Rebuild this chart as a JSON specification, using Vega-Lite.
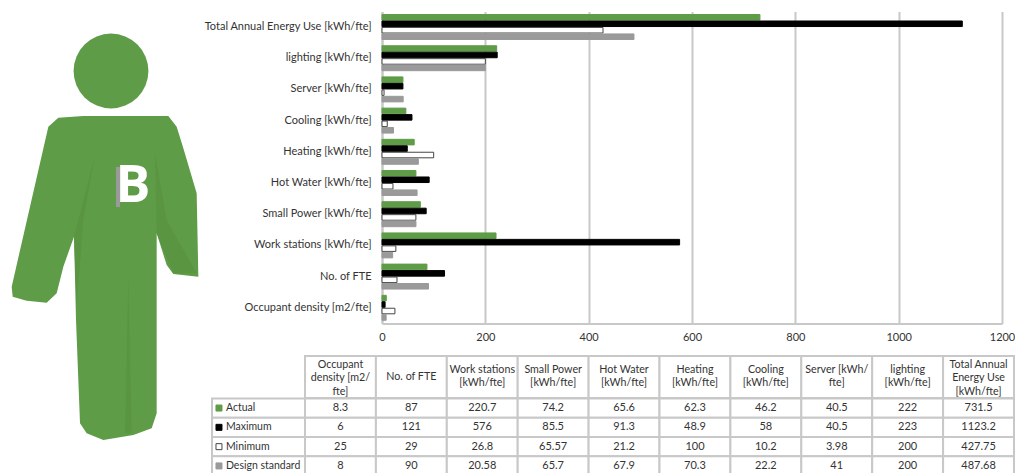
{
"$schema":"https://vega.github.io/schema/vega-lite/v6.json",
"background":"white",
"padding":{"left":0,"right":0,"top":11.4,"bottom":0},
"config":{"font":"Lato","view":{"stroke":null},"text":{"font":"Lato"}},
"datasets":{
"metrics":[
{"category":"Occupant density  [m2/fte]","series":"Actual","value":8.3},
{"category":"Occupant density  [m2/fte]","series":"Maximum","value":6},
{"category":"Occupant density  [m2/fte]","series":"Minimum","value":25},
{"category":"Occupant density  [m2/fte]","series":"Design standard","value":8},
{"category":"No. of FTE","series":"Actual","value":87},
{"category":"No. of FTE","series":"Maximum","value":121},
{"category":"No. of FTE","series":"Minimum","value":29},
{"category":"No. of FTE","series":"Design standard","value":90},
{"category":"Work stations [kWh/fte]","series":"Actual","value":220.7},
{"category":"Work stations [kWh/fte]","series":"Maximum","value":576},
{"category":"Work stations [kWh/fte]","series":"Minimum","value":26.8},
{"category":"Work stations [kWh/fte]","series":"Design standard","value":20.58},
{"category":"Small Power [kWh/fte]","series":"Actual","value":74.2},
{"category":"Small Power [kWh/fte]","series":"Maximum","value":85.5},
{"category":"Small Power [kWh/fte]","series":"Minimum","value":65.57},
{"category":"Small Power [kWh/fte]","series":"Design standard","value":65.7},
{"category":"Hot Water  [kWh/fte]","series":"Actual","value":65.6},
{"category":"Hot Water  [kWh/fte]","series":"Maximum","value":91.3},
{"category":"Hot Water  [kWh/fte]","series":"Minimum","value":21.2},
{"category":"Hot Water  [kWh/fte]","series":"Design standard","value":67.9},
{"category":"Heating   [kWh/fte]","series":"Actual","value":62.3},
{"category":"Heating   [kWh/fte]","series":"Maximum","value":48.9},
{"category":"Heating   [kWh/fte]","series":"Minimum","value":100},
{"category":"Heating   [kWh/fte]","series":"Design standard","value":70.3},
{"category":"Cooling  [kWh/fte]","series":"Actual","value":46.2},
{"category":"Cooling  [kWh/fte]","series":"Maximum","value":58},
{"category":"Cooling  [kWh/fte]","series":"Minimum","value":10.2},
{"category":"Cooling  [kWh/fte]","series":"Design standard","value":22.2},
{"category":"Server  [kWh/fte]","series":"Actual","value":40.5},
{"category":"Server  [kWh/fte]","series":"Maximum","value":40.5},
{"category":"Server  [kWh/fte]","series":"Minimum","value":3.98},
{"category":"Server  [kWh/fte]","series":"Design standard","value":41},
{"category":"lighting  [kWh/fte]","series":"Actual","value":222},
{"category":"lighting  [kWh/fte]","series":"Maximum","value":223},
{"category":"lighting  [kWh/fte]","series":"Minimum","value":200},
{"category":"lighting  [kWh/fte]","series":"Design standard","value":200},
{"category":"Total Annual Energy Use  [kWh/fte]","series":"Actual","value":731.5},
{"category":"Total Annual Energy Use  [kWh/fte]","series":"Maximum","value":1123.2},
{"category":"Total Annual Energy Use  [kWh/fte]","series":"Minimum","value":427.75},
{"category":"Total Annual Energy Use  [kWh/fte]","series":"Design standard","value":487.68}
],
"headers":[
{"category":"Occupant density  [m2/fte]","lines":3,"header":"Occupant\ndensity  [m2/\nfte]"},
{"category":"No. of FTE","lines":1,"header":"No. of FTE"},
{"category":"Work stations [kWh/fte]","lines":2,"header":"Work stations\n[kWh/fte]"},
{"category":"Small Power [kWh/fte]","lines":2,"header":"Small Power\n[kWh/fte]"},
{"category":"Hot Water  [kWh/fte]","lines":2,"header":"Hot Water\n[kWh/fte]"},
{"category":"Heating   [kWh/fte]","lines":2,"header":"Heating\n[kWh/fte]"},
{"category":"Cooling  [kWh/fte]","lines":2,"header":"Cooling\n[kWh/fte]"},
{"category":"Server  [kWh/fte]","lines":2,"header":"Server  [kWh/\nfte]"},
{"category":"lighting  [kWh/fte]","lines":2,"header":"lighting\n[kWh/fte]"},
{"category":"Total Annual Energy Use  [kWh/fte]","lines":3,"header":"Total Annual\nEnergy Use\n[kWh/fte]"}
],
"seriesList":[{"series":"Actual"},{"series":"Maximum"},{"series":"Minimum"},{"series":"Design standard"}]
},
"hconcat":[
{
"width":382,"height":461.6,
"encoding":{
 "x":{"field":"x","type":"quantitative","scale":{"domain":[0,382],"zero":false,"nice":false},"axis":null},
 "y":{"field":"y","type":"quantitative","scale":{"domain":[11.4,473],"reverse":true,"zero":false,"nice":false},"axis":null}},
"layer":[
{"data":{"values":[{"part":"body","x":100,"y":240}]},
 "mark":{"type":"point","filled":true,"opacity":1,"color":"#5f9c48","shape":"M-.125,-.367L-.05,-.372L.205,-.372L.23,-.34L.25,-.275L.29,-.14L.295,.11L.22,.102L.2,.075L.17,-.02L.17,.52L.155,.565L.1,.585L.01,.6L-.04,.58L-.06,.55L-.072,.24L-.078,-.01L-.11,.08L-.13,.16L-.16,.188L-.22,.182L-.262,.17L-.265,.14L-.155,-.34Z"},
 "encoding":{"size":{"value":444444}}},
{"data":{"values":[{"part":"creases","x":100,"y":240}]},
 "mark":{"type":"point","filled":true,"opacity":1,"color":"#5a9642","shape":"M.085,.11L.095,.58L.075,.58ZM-.015,-.255L-.05,-.06L-.07,.2L-.078,-.01ZM.165,-.26L.2,-.06L.29,.1L.22,.1L.17,-.02Z"},
 "encoding":{"size":{"value":444444}}},
{"data":{"values":[{"part":"head","x":111,"y":71}]},
 "mark":{"type":"point","filled":true,"opacity":1,"color":"#5f9c48","shape":"circle"},
 "encoding":{"size":{"value":5600}}},
{"data":{"values":[{"part":"B shadow","x":118,"y":187}]},
 "mark":{"type":"point","filled":true,"opacity":1,"color":"#9a9a9a","shape":"M-.1,-1L.1,-1L.1,1L-.1,1Z"},
 "encoding":{"size":{"value":1600}}},
{"data":{"values":[{"part":"B","x":133,"y":186,"t":"B"}]},
 "mark":{"type":"text","font":"Open Sans","fontWeight":"bold","fontSize":52,"color":"white","baseline":"middle","align":"center"},
 "encoding":{"text":{"field":"t"}}}
]
},
{
"bounds":"flush","spacing":0,
"vconcat":[
{
"width":620,"height":312,
"data":{"name":"metrics"},
"mark":{"type":"bar","strokeWidth":1},
"encoding":{
"y":{"field":"category","type":"nominal","title":null,
 "sort":["Total Annual Energy Use  [kWh/fte]","lighting  [kWh/fte]","Server  [kWh/fte]","Cooling  [kWh/fte]","Heating   [kWh/fte]","Hot Water  [kWh/fte]","Small Power [kWh/fte]","Work stations [kWh/fte]","No. of FTE","Occupant density  [m2/fte]"],
 "scale":{"paddingInner":0.2,"paddingOuter":0.1},
 "axis":{"ticks":false,"labelFontSize":11,"labelColor":"#333333","labelPadding":11,"labelLimit":300,"domainColor":"#c8c8c8","domainWidth":2,"grid":false}},
"yOffset":{"field":"series","type":"nominal","sort":["Actual","Maximum","Minimum","Design standard"],"scale":{"paddingInner":0.14,"paddingOuter":0}},
"x":{"field":"value","type":"quantitative","title":null,
 "scale":{"domain":[0,1200],"nice":false},
 "axis":{"values":[0,200,400,600,800,1000,1200],"format":"d","ticks":false,"labelFontSize":11,"labelColor":"#333333","labelPadding":8,"labelFlush":false,"domainColor":"#c8c8c8","domainWidth":2,"grid":true,"gridColor":"#c8c8c8","gridWidth":2}},
"fill":{"field":"series","type":"nominal","legend":null,"scale":{"domain":["Actual","Maximum","Minimum","Design standard"],"range":["#5f9c48","#000000","#ffffff","#9a9a9a"]}},
"stroke":{"field":"series","type":"nominal","legend":null,"scale":{"domain":["Actual","Maximum","Minimum","Design standard"],"range":["#5f9c48","#000000","#444444","#9a9a9a"]}}
}
},
{
"width":620,"height":74.6,
"data":{"name":"headers"},
"encoding":{
"x":{"field":"category","type":"nominal","axis":null,"sort":null,
 "scale":{"type":"band","domain":["Occupant density  [m2/fte]","No. of FTE","Work stations [kWh/fte]","Small Power [kWh/fte]","Hot Water  [kWh/fte]","Heating   [kWh/fte]","Cooling  [kWh/fte]","Server  [kWh/fte]","lighting  [kWh/fte]","Total Annual Energy Use  [kWh/fte]"],"range":[-77,632],"paddingInner":0,"paddingOuter":0}},
"y":{"datum":"Header","type":"nominal","axis":null,"scale":{"type":"band","domain":["Header"],"range":[32.6,74.6],"paddingInner":0,"paddingOuter":0}}
},
"layer":[
{"mark":{"type":"rect","fill":"white","stroke":"#c8c8c8","strokeWidth":2}},
{"transform":[{"filter":{"field":"lines","equal":1}}],
 "mark":{"type":"text","fontSize":10.7,"color":"#333333","baseline":"middle"},"encoding":{"text":{"field":"header"}}},
{"transform":[{"filter":{"field":"lines","equal":2}}],
 "mark":{"type":"text","fontSize":10.7,"color":"#333333","lineBreak":"\n","lineHeight":13.5,"baseline":"middle","dy":-7},"encoding":{"text":{"field":"header"}}},
{"transform":[{"filter":{"field":"lines","equal":3}}],
 "mark":{"type":"text","fontSize":10.7,"color":"#333333","lineBreak":"\n","lineHeight":13.5,"baseline":"middle","dy":-12},"encoding":{"text":{"field":"header"}}}
]
},
{
"width":620,"height":77.2,
"resolve":{"scale":{"x":"independent"}},
"layer":[
{"data":{"name":"seriesList"},
 "mark":{"type":"rect","fill":"white","stroke":"#c8c8c8","strokeWidth":2},
 "encoding":{
  "x":{"datum":"Series","type":"nominal","axis":null,"scale":{"type":"band","domain":["Series"],"range":[-170,-77],"paddingInner":0,"paddingOuter":0}},
  "y":{"field":"series","type":"nominal","axis":null,"sort":["Actual","Maximum","Minimum","Design standard"],"scale":{"paddingInner":0,"paddingOuter":0}}}},
{"data":{"name":"seriesList"},
 "mark":{"type":"point","shape":"square","filled":false,"opacity":1,"strokeWidth":1,"size":36},
 "encoding":{
  "x":{"datum":"Series","type":"nominal","bandPosition":0.075,"axis":null,"scale":{"type":"band","domain":["Series"],"range":[-170,-77],"paddingInner":0,"paddingOuter":0}},
  "y":{"field":"series","type":"nominal","axis":null,"sort":["Actual","Maximum","Minimum","Design standard"]},
  "fill":{"field":"series","type":"nominal","legend":null},
  "stroke":{"field":"series","type":"nominal","legend":null}}},
{"data":{"name":"seriesList"},
 "mark":{"type":"text","fontSize":10.5,"color":"#333333","align":"left"},
 "encoding":{
  "x":{"datum":"Series","type":"nominal","bandPosition":0.15,"axis":null,"scale":{"type":"band","domain":["Series"],"range":[-170,-77],"paddingInner":0,"paddingOuter":0}},
  "y":{"field":"series","type":"nominal","axis":null,"sort":["Actual","Maximum","Minimum","Design standard"]},
  "text":{"field":"series"}}},
{"data":{"name":"metrics"},
 "mark":{"type":"rect","fill":"white","stroke":"#c8c8c8","strokeWidth":2},
 "encoding":{
  "x":{"field":"category","type":"nominal","axis":null,"sort":null,"scale":{"type":"band","domain":["Occupant density  [m2/fte]","No. of FTE","Work stations [kWh/fte]","Small Power [kWh/fte]","Hot Water  [kWh/fte]","Heating   [kWh/fte]","Cooling  [kWh/fte]","Server  [kWh/fte]","lighting  [kWh/fte]","Total Annual Energy Use  [kWh/fte]"],"range":[-77,632],"paddingInner":0,"paddingOuter":0}},
  "y":{"field":"series","type":"nominal","axis":null,"sort":["Actual","Maximum","Minimum","Design standard"]}}},
{"data":{"name":"metrics"},
 "mark":{"type":"text","fontSize":11,"color":"#333333"},
 "encoding":{
  "x":{"field":"category","type":"nominal","axis":null,"sort":null,"scale":{"type":"band","domain":["Occupant density  [m2/fte]","No. of FTE","Work stations [kWh/fte]","Small Power [kWh/fte]","Hot Water  [kWh/fte]","Heating   [kWh/fte]","Cooling  [kWh/fte]","Server  [kWh/fte]","lighting  [kWh/fte]","Total Annual Energy Use  [kWh/fte]"],"range":[-77,632],"paddingInner":0,"paddingOuter":0}},
  "y":{"field":"series","type":"nominal","axis":null,"sort":["Actual","Maximum","Minimum","Design standard"]},
  "text":{"field":"value","type":"nominal"}}}
]
}
]
}
],
"bounds":"flush","spacing":0
}
